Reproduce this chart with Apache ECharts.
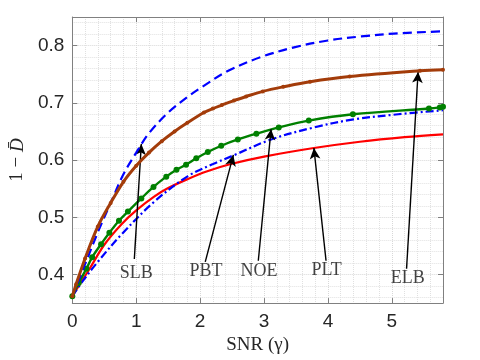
<!DOCTYPE html>
<html>
<head>
<meta charset="utf-8">
<script src="https://cdn.jsdelivr.net/npm/echarts@6/dist/echarts.min.js"></script>
<style>html,body{margin:0;padding:0;background:#fff}#c{width:480px;height:360px}</style>
</head>
<body>
<div id="c"></div>
<script>
// ---- data ----
const elbX = [0, 0.06, 0.2, 0.4, 0.6, 0.8, 1.0, 1.2, 1.4, 1.6, 1.8, 2.06, 2.2, 2.34, 2.53, 2.72, 2.98, 3.3, 3.72, 4.34, 5.44, 5.8];
const elbY = [0.362, 0.383, 0.428, 0.484, 0.525, 0.562, 0.590, 0.613, 0.633, 0.650, 0.665, 0.683, 0.690, 0.696, 0.704, 0.711, 0.720, 0.728, 0.737, 0.746, 0.756, 0.758];

const slbX = [0, 0.2, 0.4, 0.6, 0.8, 1.0, 1.2, 1.5, 1.8, 2.02, 2.44, 2.95, 3.47, 4.0, 4.52, 5.03, 5.8];
const slbY = [0.362, 0.418, 0.474, 0.525, 0.575, 0.613, 0.647, 0.683, 0.710, 0.727, 0.756, 0.780, 0.797, 0.809, 0.816, 0.821, 0.825];

const noeX = [0, 0.1, 0.22, 0.31, 0.45, 0.58, 0.73, 0.87, 1.08, 1.27, 1.47, 1.63, 1.78, 1.94, 2.12, 2.33, 2.59, 2.88, 3.23, 3.70, 4.39, 5.58, 5.75, 5.8];
const noeY = [0.362, 0.385, 0.41, 0.43, 0.453, 0.473, 0.494, 0.51, 0.533, 0.553, 0.571, 0.583, 0.592, 0.603, 0.614, 0.625, 0.636, 0.646, 0.657, 0.669, 0.680, 0.690, 0.692, 0.693];

const pltX = [0, 0.1, 0.27, 0.5, 0.77, 1.0, 1.28, 1.5, 1.81, 2.1, 2.48, 3.0, 3.78, 4.5, 5.2, 5.8];
const pltY = [0.362, 0.380, 0.410, 0.452, 0.488, 0.512, 0.536, 0.551, 0.567, 0.580, 0.593, 0.606, 0.621, 0.632, 0.640, 0.645];

const pbtX = [0, 0.16, 0.42, 0.77, 1.28, 1.81, 2.2, 2.52, 3.11, 3.78, 4.4, 5.1, 5.8];
const pbtY = [0.362, 0.388, 0.425, 0.470, 0.527, 0.572, 0.593, 0.608, 0.636, 0.657, 0.671, 0.680, 0.687];

// annotation labels: [x, y, text] and arrows [tailX, tailY, tipX, tipY]
const annLabels = [[1.0, 0.403, 'SLB'], [2.09, 0.405, 'PBT'], [2.92, 0.405, 'NOE'], [3.98, 0.407, 'PLT'], [5.25, 0.393, 'ELB']];
const annArrows = [[0.97, 0.427, 1.08, 0.628], [2.08, 0.422, 2.52, 0.609], [2.91, 0.424, 3.11, 0.654], [3.97, 0.424, 3.78, 0.621], [5.23, 0.41, 5.41, 0.754]];

const xTicks = [0, 1, 2, 3, 4, 5];
const yTicks = [0.4, 0.5, 0.6, 0.7, 0.8];
const yMinor = [0.36, 0.38, 0.42, 0.44, 0.46, 0.48, 0.52, 0.54, 0.56, 0.58, 0.62, 0.64, 0.66, 0.68, 0.72, 0.74, 0.76, 0.78, 0.82, 0.84];

const zip = (xs, ys) => xs.map((x, i) => [x, ys[i]]);

const chart = echarts.init(document.getElementById('c'), null, {renderer: 'canvas'});
const axisColor = '#808080';
const tickFont = {fontFamily: 'Liberation Sans, Arial, sans-serif', fontSize: 19, color: '#262626'};
const serif = 'Liberation Serif, Times New Roman, serif';
const majorGrid = {show: true, lineStyle: {color: '#d8d8d8', type: 'dotted', width: 1}};
const minorGrid = {show: true, lineStyle: {color: '#e0e0e0', type: 'dotted', width: 1}};

const baseX = {
  type: 'value', min: 0, max: 5.8, interval: 1,
  axisLine: {show: true, onZero: false, lineStyle: {color: axisColor, width: 1}},
  axisTick: {show: true, inside: true, length: 5, lineStyle: {color: axisColor}, customValues: xTicks},
};
const baseY = {
  type: 'value', min: 0.35, max: 0.85, interval: 0.05,
  axisLine: {show: true, onZero: false, lineStyle: {color: axisColor, width: 1}},
  axisTick: {show: true, inside: true, length: 5, lineStyle: {color: axisColor}, customValues: yTicks},
};

chart.setOption({
  animation: false,
  backgroundColor: '#fff',
  grid: {left: 71, top: 17, right: 37, bottom: 49, containLabel: false},
  xAxis: [
    Object.assign({}, baseX, {
      position: 'bottom',
      axisLabel: Object.assign({margin: 9, customValues: xTicks}, tickFont),
      splitLine: majorGrid,
      minorTick: {show: false, splitNumber: 5},
      minorSplitLine: minorGrid,
      name: 'SNR (γ)', nameLocation: 'middle', nameGap: 27,
      nameTextStyle: {fontFamily: serif, fontSize: 19, color: '#262626'}
    }),
    Object.assign({}, baseX, {position: 'top', axisLabel: {show: false}, splitLine: {show: false}})
  ],
  yAxis: [
    Object.assign({}, baseY, {
      position: 'left',
      axisLabel: Object.assign({margin: 8, customValues: yTicks, formatter: v => v.toFixed(1)}, tickFont),
      splitLine: majorGrid,
      name: '{a|1 − }{b|D̄}', nameLocation: 'middle', nameGap: 44, nameRotate: 90,
      nameTextStyle: {
        fontFamily: serif, fontSize: 19, color: '#262626',
        rich: {a: {fontFamily: serif, fontSize: 19, color: '#262626'},
               b: {fontFamily: serif, fontSize: 19, fontStyle: 'italic', color: '#262626'}}
      }
    }),
    Object.assign({}, baseY, {position: 'right', axisLabel: {show: false}, splitLine: {show: false}}),
    {
      type: 'value', min: 0.35, max: 0.85, interval: 0.05, position: 'left',
      axisLine: {show: false}, axisLabel: {show: false},
      axisTick: {show: false, customValues: yMinor},
      splitLine: minorGrid
    }
  ],
  series: [
    {name: 'PLT', type: 'line', data: zip(pltX, pltY), smooth: 0.35, showSymbol: false,
     lineStyle: {color: '#ff0000', width: 2.2}, z: 2},
    {name: 'PBT', type: 'line', data: zip(pbtX, pbtY), smooth: 0.35, showSymbol: false,
     lineStyle: {color: '#0000ff', width: 2.2, type: [8, 3, 2, 3]}, z: 3},
    {name: 'NOE', type: 'line', data: zip(noeX, noeY), smooth: 0.35, showSymbol: true,
     symbol: 'circle', symbolSize: 6, itemStyle: {color: '#008000'},
     lineStyle: {color: '#008000', width: 2.4}, z: 4},
    {name: 'SLB', type: 'line', data: zip(slbX, slbY), smooth: 0.35, showSymbol: false,
     lineStyle: {color: '#0000ff', width: 2.2, type: [9, 5]}, z: 5},
    {name: 'ELB', type: 'line', data: zip(elbX, elbY), smooth: 0.35, showSymbol: true,
     symbol: 'circle', symbolSize: 4, itemStyle: {color: '#a33c0a'},
     lineStyle: {color: '#a33c0a', width: 3}, z: 6},
    {name: 'ann', type: 'scatter', data: annLabels.map(a => ({value: [a[0], a[1]], name: a[2]})),
     symbolSize: 0, z: 10,
     label: {show: true, position: 'inside', formatter: p => p.name,
             fontFamily: serif, fontSize: 18, color: '#111'},
     markLine: {
       silent: true, animation: false, symbol: ['none', 'arrow'], symbolSize: [8, 11],
       label: {show: false},
       lineStyle: {color: '#000', width: 1.4, type: 'solid'},
       data: annArrows.map(a => [{coord: [a[0], a[1]]}, {coord: [a[2], a[3]]}])
     }}
  ]
});
</script>
</body>
</html>
